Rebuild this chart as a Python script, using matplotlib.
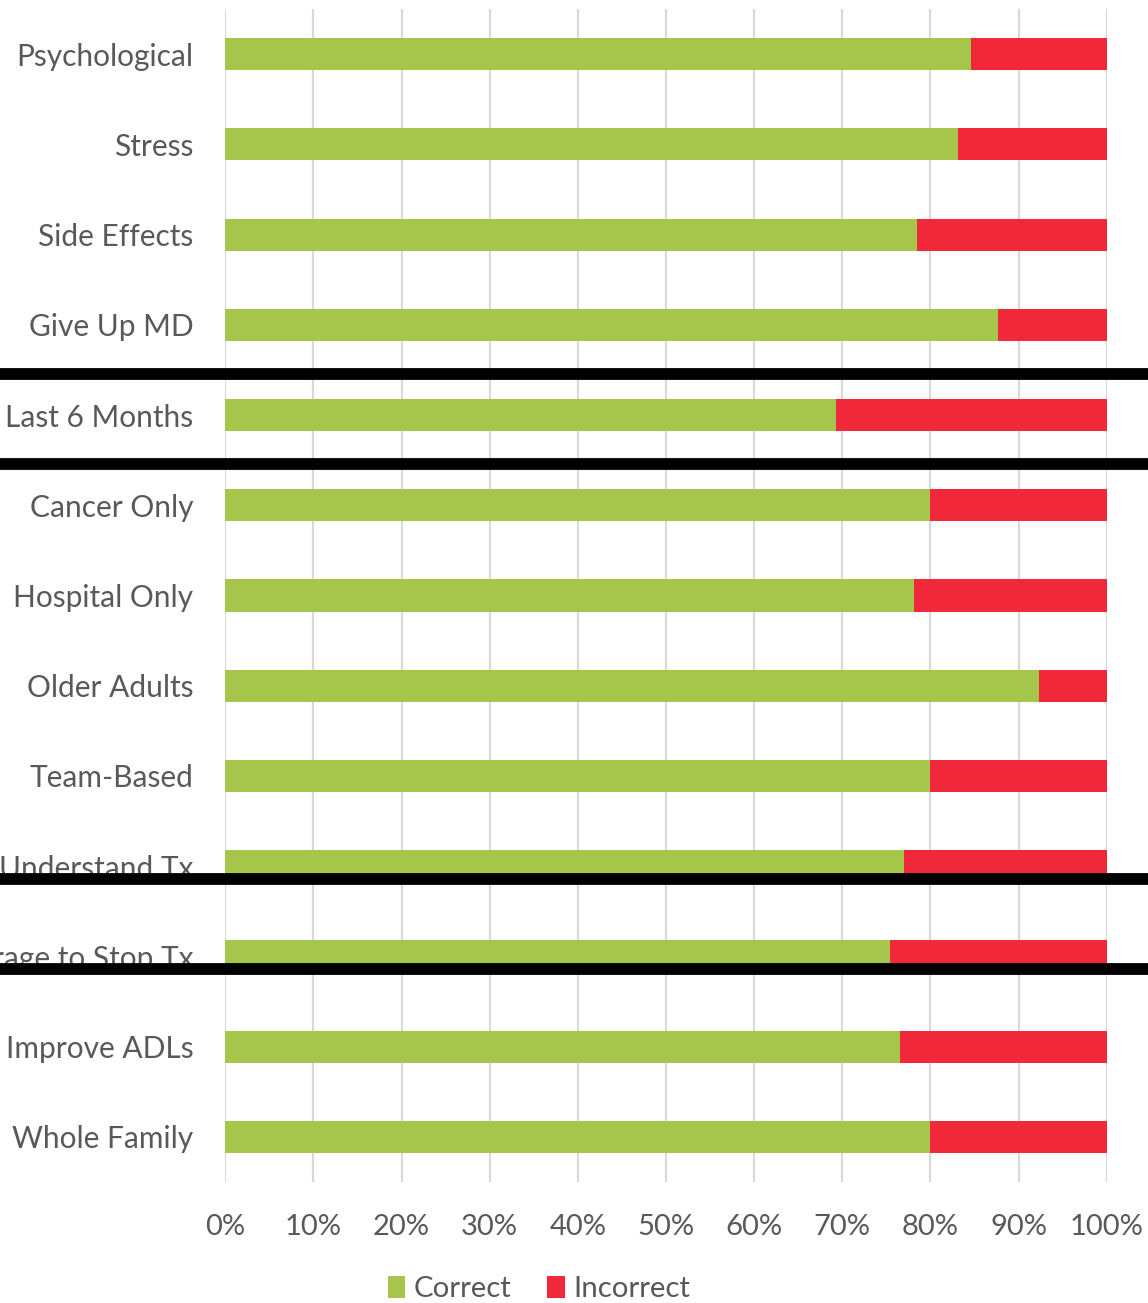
import matplotlib
matplotlib.use("Agg")
import matplotlib.pyplot as plt
from matplotlib.lines import Line2D
from matplotlib.transforms import blended_transform_factory

# Survey items, top to bottom
categories = [
    "Psychological", "Stress", "Side Effects", "Give Up MD",
    "Last 6 Months",
    "Cancer Only", "Hospital Only", "Older Adults", "Team-Based", "Understand Tx",
    "Encourage to Stop Tx",
    "Improve ADLs", "Whole Family",
]
# Share of respondents answering correctly (%)
correct = [84.6, 83.1, 78.5, 87.7, 69.3, 80.0, 78.1, 92.3, 80.0, 77.0, 75.4, 76.6, 80.0]
incorrect = [100 - c for c in correct]

xticks = list(range(0, 101, 10))
xtick_labels = [f"{t}%" for t in xticks]

# Group separators (in category-row units)
separators = [3.54, 4.54, 9.14, 10.14]

GREEN = "#A6C64B"
RED = "#F0283A"
TEXT = "#595959"
GRID = "#D9D9D9"

plt.rcParams["font.family"] = ["Lato", "DejaVu Sans"]

W, H = 1148, 1303
fig = plt.figure(figsize=(W / 100, H / 100), dpi=100)
ax = fig.add_axes([225.3 / W, 1 - 1182 / H, (1106.7 - 225.3) / W, (1182 - 9) / H])

y = list(range(len(categories)))
ax.barh(y, correct, height=0.355, color=GREEN, label="Correct", zorder=2)
ax.barh(y, incorrect, left=correct, height=0.355, color=RED, label="Incorrect", zorder=2)

ax.set_xlim(0, 100)
ax.set_ylim(len(categories) - 0.5, -0.5)
ax.set_xticks(xticks)
ax.set_xticklabels(xtick_labels)
ax.set_yticks(y)
ax.set_yticklabels(categories)
ax.tick_params(axis="both", length=0, labelcolor=TEXT)
ax.tick_params(axis="y", pad=23, labelsize=21.5)
ax.tick_params(axis="x", pad=23, labelsize=21)
ax.xaxis.grid(True, color=GRID, linewidth=1.6, zorder=0)
ax.set_axisbelow(True)
for s in ax.spines.values():
    s.set_visible(False)

# Separators span the full width of the figure
trans = blended_transform_factory(fig.transFigure, ax.transData)
for sy in separators:
    fig.add_artist(Line2D([0, 1], [sy, sy], transform=trans, color="black",
                          linewidth=8.5, solid_capstyle="butt", zorder=10))

leg = fig.legend(loc="center", bbox_to_anchor=(539 / W, 1 - 1289 / H), ncol=2,
                 frameon=False, fontsize=21.2, handlelength=0.6, handleheight=0.75,
                 handletextpad=0.3, columnspacing=1.2)
for t in leg.get_texts():
    t.set_color(TEXT)

fig.savefig("out.png", dpi=100)
